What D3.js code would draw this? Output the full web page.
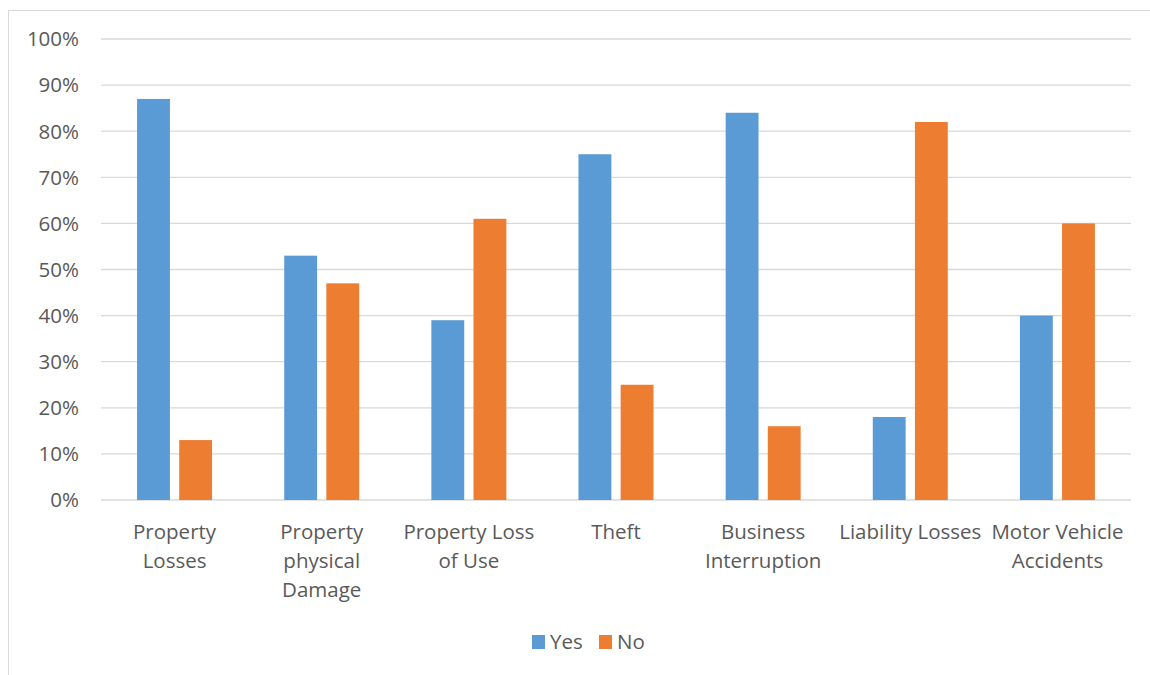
<!DOCTYPE html>
<html><head><meta charset="utf-8">
<script src="https://cdn.jsdelivr.net/npm/d3@7"></script>
<style>body{margin:0;background:#fff;} text{font-family:"Open Sans","Noto Sans",sans-serif;fill:#595959;}</style>
</head><body>
<svg id="c" width="1150" height="675"></svg>
<script>
const categories = ["Property Losses","Property physical Damage","Property Loss of Use","Theft","Business Interruption","Liability Losses","Motor Vehicle Accidents"];
const labelLines = [["Property","Losses"],["Property","physical","Damage"],["Property Loss","of Use"],["Theft"],["Business","Interruption"],["Liability Losses"],["Motor Vehicle","Accidents"]];
const seriesNames = ["Yes","No"];
const yesValues = [87,53,39,75,84,18,40];
const noValues = [13,47,61,25,16,82,60];
const yTicks = [0,10,20,30,40,50,60,70,80,90,100];
const colors = ["#5b9bd5","#ed7d31"];

const svg = d3.select("#c");
svg.append("rect").attr("x",8.5).attr("y",10.5).attr("width",1160).attr("height",680)
  .attr("fill","none").attr("stroke","#d9d9d9").attr("stroke-width",1);

const x0 = d3.scaleBand().domain(categories).range([101,1131]);
const y = d3.scaleLinear().domain([0,100]).range([500,39]);
const x1 = d3.scaleBand().domain(seriesNames).range([-37.5,37.5]).paddingInner(0.22);

const g = svg.append("g");
g.selectAll("line.grid").data(yTicks).join("line")
  .attr("x1",101).attr("x2",1131).attr("y1",d=>y(d)).attr("y2",d=>y(d))
  .attr("stroke","#d9d9d9").attr("stroke-width",1.3);
g.selectAll("text.yt").data(yTicks).join("text")
  .attr("x",79).attr("y",d=>y(d)).attr("dy","0.36em").attr("text-anchor","end")
  .attr("font-size",20.5).text(d=>d+"%");

const data = categories.map((c,i)=>({c, vals:[yesValues[i],noValues[i]]}));
const grp = g.selectAll("g.cat").data(data).join("g")
  .attr("transform",d=>`translate(${x0(d.c)+x0.bandwidth()/2},0)`);
grp.selectAll("rect").data(d=>d.vals.map((v,j)=>({v,s:seriesNames[j],j}))).join("rect")
  .attr("x",d=>x1(d.s)).attr("width",x1.bandwidth())
  .attr("y",d=>y(d.v)).attr("height",d=>y(0)-y(d.v)).attr("fill",d=>colors[d.j]);

grp.each(function(d,i){
  const t = d3.select(this).append("text").attr("text-anchor","middle").attr("font-size",20.5);
  labelLines[i].forEach((l,k)=>t.append("tspan").attr("x",0).attr("y",539+k*29).text(l));
});

const leg = svg.append("g");
const legX = [532,599];
seriesNames.forEach((s,i)=>{
  leg.append("rect").attr("x",legX[i]).attr("y",635).attr("width",13).attr("height",14).attr("fill",colors[i]);
  leg.append("text").attr("x",legX[i]+18).attr("y",649).attr("font-size",20.5).text(s);
});
</script>
</body></html>
